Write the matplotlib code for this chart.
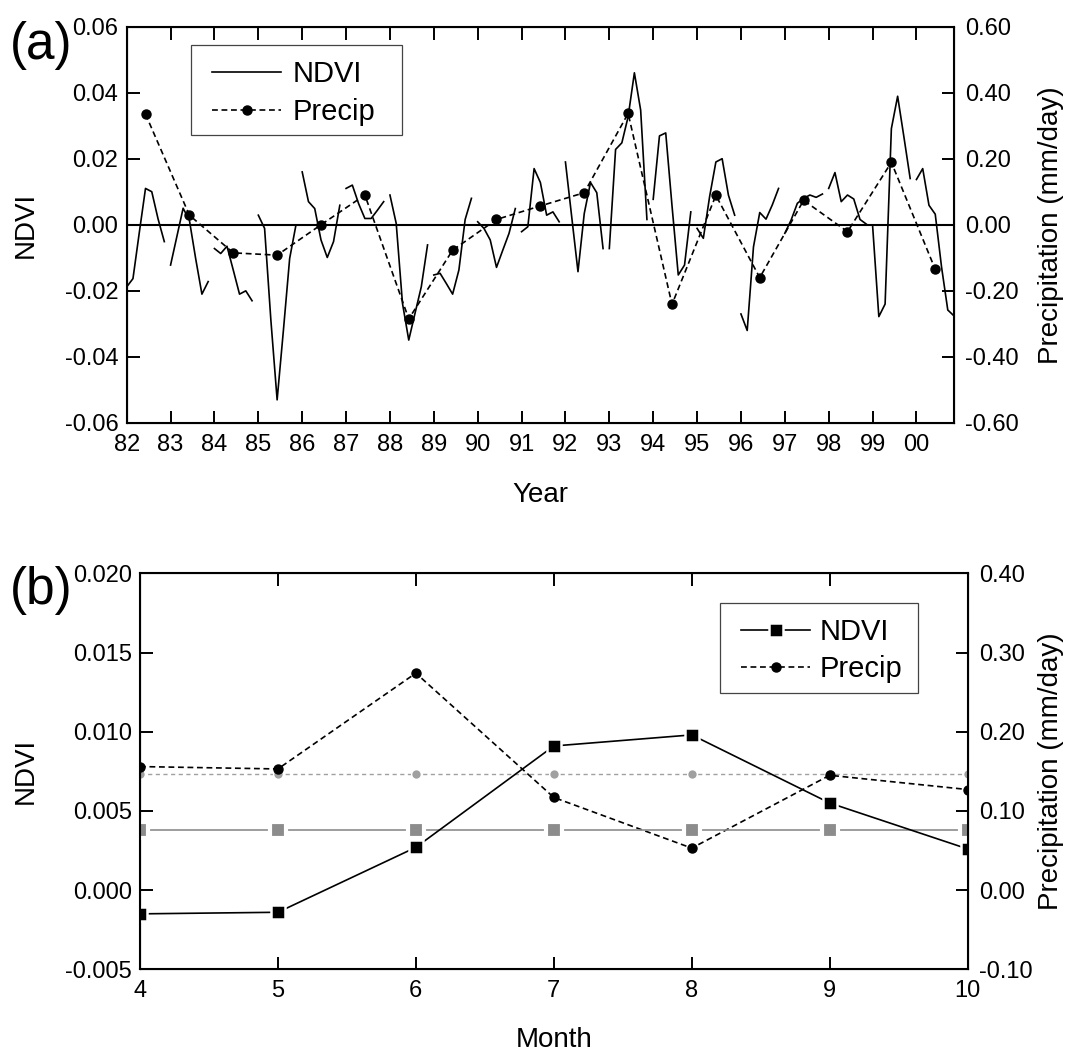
import matplotlib.pyplot as plt
from matplotlib.patches import Rectangle
import numpy as np

plt.rcParams['font.family'] = ['Liberation Sans', 'DejaVu Sans']
plt.rcParams['axes.unicode_minus'] = False

# (a) growing-season NDVI anomalies, Apr..Oct of each year, and annual precip anomaly
years = list(range(82, 101))
ndvi_monthly = [
    [-0.0188, -0.0163, -0.0025, 0.0110, 0.0100, 0.0018, -0.0051],   # 82
    [-0.0122, -0.0036, 0.0050, 0.0014, -0.0102, -0.0210, -0.0172],   # 83
    [-0.0072, -0.0087, -0.0065, -0.0137, -0.0210, -0.0200, -0.0230], # 84
    [0.0029, -0.0011, -0.0288, -0.0530, -0.0320, -0.0102, -0.0001],  # 85
    [0.0160, 0.0070, 0.0049, -0.0046, -0.0099, -0.0051, 0.0059],     # 86
    [0.0110, 0.0120, 0.0064, 0.0019, 0.0019, 0.0044, 0.0070],        # 87
    [0.0090, 0.0004, -0.0238, -0.0349, -0.0268, -0.0188, -0.0061],   # 88
    [-0.0152, -0.0147, -0.0178, -0.0210, -0.0137, 0.0016, 0.0080],   # 89
    [0.0009, -0.0011, -0.0046, -0.0129, -0.0077, -0.0026, 0.0049],   # 90
    [-0.0021, -0.0006, 0.0170, 0.0128, 0.0029, 0.0039, 0.0009],      # 91
    [0.0190, 0.0024, -0.0142, 0.0034, 0.0128, 0.0097, -0.0072],      # 92
    [-0.0072, 0.0228, 0.0248, 0.0327, 0.0460, 0.0347, 0.0016],       # 93
    [0.0077, 0.0269, 0.0278, 0.0058, -0.0152, -0.0122, 0.0039],      # 94
    [-0.0011, -0.0041, 0.0085, 0.0190, 0.0200, 0.0090, 0.0029],      # 95
    [-0.0270, -0.0320, -0.0067, 0.0037, 0.0017, 0.0060, 0.0110],     # 96
    [-0.0026, 0.0014, 0.0065, 0.0080, 0.0090, 0.0083, 0.0093],       # 97
    [0.0110, 0.0158, 0.0070, 0.0090, 0.0078, 0.0016, 0.0002],        # 98
    [-0.0001, -0.0278, -0.0240, 0.0291, 0.0389, 0.0266, 0.0140],     # 99
    [0.0137, 0.0170, 0.0059, 0.0032, -0.0127, -0.0258, -0.0276],     # 00
]
precip_annual = [0.335, 0.029, -0.085, -0.092, 0.000, 0.090, -0.285,
                 -0.077, 0.016, 0.057, 0.097, 0.337, -0.241, 0.089,
                 -0.160, 0.074, -0.021, 0.189, -0.135]

# (b) monthly regression coefficients and their means
months = [4, 5, 6, 7, 8, 9, 10]
ndvi_month = [-0.0015, -0.0014, 0.0027, 0.0091, 0.0098, 0.0055, 0.0026]
precip_month = [0.156, 0.153, 0.274, 0.117, 0.053, 0.145, 0.127]
ndvi_month_mean = 0.0038
precip_month_mean = 0.146

W, H = 1071, 1053
DASH = (0, (3.5, 2.2))
TICK_FS = 17
LABEL_FS = 20


def style_axes(ax, twin):
    for s in ax.spines.values():
        s.set_linewidth(1.5)
    ax.tick_params(axis='x', direction='in', top=True, length=9, width=1.4,
                   labelsize=TICK_FS, pad=8)
    ax.tick_params(axis='y', direction='in', length=9, width=1.4,
                   labelsize=TICK_FS, pad=6)
    twin.tick_params(axis='y', direction='in', length=9, width=1.4,
                     labelsize=TICK_FS, pad=8)


def add_legend(ax, handles, box, first_top, spacing, textpad):
    # box = (left, top, right, bottom) in pixels from the top-left corner
    x0, y0, x1, y1 = box
    ax.add_patch(Rectangle((x0 / W, 1 - y1 / H), (x1 - x0) / W, (y1 - y0) / H,
                           transform=fig.transFigure, facecolor='white',
                           edgecolor='#444444', lw=0.9, zorder=4,
                           clip_on=False))
    ax.legend(handles, ['NDVI', 'Precip'], loc='upper left',
              bbox_to_anchor=((x0 + 21) / W, 1 - first_top / H),
              bbox_transform=fig.transFigure, borderaxespad=0, borderpad=0,
              fontsize=21, handlelength=2.37, handletextpad=textpad,
              labelspacing=spacing, frameon=False)


fig = plt.figure(figsize=(W / 100, H / 100), dpi=100)

# ---- panel (a)
ax_a = fig.add_axes([0.1183, 0.5983, 0.7725, 0.3765])
ax_a2 = ax_a.twinx()
seg = np.arange(7) / 7.0
for yr, vals in zip(years, ndvi_monthly):
    ax_a.plot(yr + seg, vals, color='black', lw=1.2)
ax_a.axhline(0, color='black', lw=1.5)
ax_a2.plot(np.array(years) + 3 / 7.0, precip_annual, color='black', lw=1.2,
           linestyle=DASH, marker='o', ms=6.5)

ax_a.set_xlim(82, 100 + 6 / 7.0)
ax_a.set_ylim(-0.06, 0.06)
ax_a2.set_ylim(-0.6, 0.6)
ax_a.set_xticks(years)
ax_a.set_xticklabels(['%02d' % (y % 100) for y in years])
ax_a.set_yticks(np.arange(-0.06, 0.061, 0.02))
ax_a.set_yticklabels(['%.2f' % v for v in np.arange(-0.06, 0.061, 0.02)])
ax_a2.set_yticks(np.arange(-0.6, 0.61, 0.2))
ax_a2.set_yticklabels(['%.2f' % v for v in np.arange(-0.6, 0.61, 0.2)])
style_axes(ax_a, ax_a2)
ax_a.set_xlabel('Year', fontsize=LABEL_FS)
ax_a.xaxis.set_label_coords(0.5, -0.15)
ax_a.set_ylabel('NDVI', fontsize=LABEL_FS)
ax_a.yaxis.set_label_coords(-0.106, 0.5)
ax_a2.set_ylabel('Precipitation (mm/day)', fontsize=LABEL_FS, rotation=90)
ax_a2.yaxis.set_label_coords(1.101, 0.5)

h1 = plt.Line2D([], [], color='black', lw=1.2)
h2 = plt.Line2D([], [], color='black', lw=1.2, linestyle=DASH, marker='o', ms=6.5)
add_legend(ax_a2, [h1, h2], (191, 45, 402, 135), 60, 0.36, 0.38)

# ---- panel (b)
ax_b = fig.add_axes([0.1307, 0.0795, 0.7728, 0.3760])
ax_b2 = ax_b.twinx()
ax_b.plot(months, [ndvi_month_mean] * len(months), color='#8c8c8c', lw=1.2,
          marker='s', ms=11, mfc='#8c8c8c', mec='white', mew=3)
ax_b2.plot(months, [precip_month_mean] * len(months), color='#a0a0a0', lw=1.0,
           linestyle=(0, (3, 2.5)), marker='o', ms=7, mfc='#a0a0a0',
           mec='white', mew=1)
ax_b.plot(months, ndvi_month, color='black', lw=1.2, marker='s', ms=10,
          mfc='black', mec='white', mew=1.8)
ax_b2.plot(months, precip_month, color='black', lw=1.2, linestyle=DASH,
           marker='o', ms=6.5)
ax_b.set_zorder(ax_b2.get_zorder() + 1)
ax_b.patch.set_visible(False)

ax_b.set_xlim(4, 10)
ax_b.set_ylim(-0.005, 0.020)
ax_b2.set_ylim(-0.10, 0.40)
ax_b.set_xticks(months)
ax_b.set_yticks(np.arange(-0.005, 0.0201, 0.005))
ax_b.set_yticklabels(['%.3f' % v for v in np.arange(-0.005, 0.0201, 0.005)])
ax_b2.set_yticks(np.arange(-0.1, 0.401, 0.1))
ax_b2.set_yticklabels(['%.2f' % v for v in np.arange(-0.1, 0.401, 0.1)])
style_axes(ax_b, ax_b2)
ax_b.set_xlabel('Month', fontsize=LABEL_FS)
ax_b.xaxis.set_label_coords(0.5, -0.145)
ax_b.set_ylabel('NDVI', fontsize=LABEL_FS)
ax_b.yaxis.set_label_coords(-0.122, 0.5)
ax_b2.set_ylabel('Precipitation (mm/day)', fontsize=LABEL_FS, rotation=90)
ax_b2.yaxis.set_label_coords(1.085, 0.5)

g1 = plt.Line2D([], [], color='black', lw=1.2, marker='s', ms=10,
                mfc='black', mec='white', mew=1.8)
g2 = plt.Line2D([], [], color='black', lw=1.2, linestyle=DASH, marker='o', ms=6.5)
add_legend(ax_b, [g1, g2], (720, 603, 918, 693), 618, 0.32, 0.31)

fig.text(0.009, 1 - 59 / H, '(a)', fontsize=37, va='baseline')
fig.text(0.009, 1 - 604 / H, '(b)', fontsize=37, va='baseline')

fig.savefig('out.png', dpi=100)
